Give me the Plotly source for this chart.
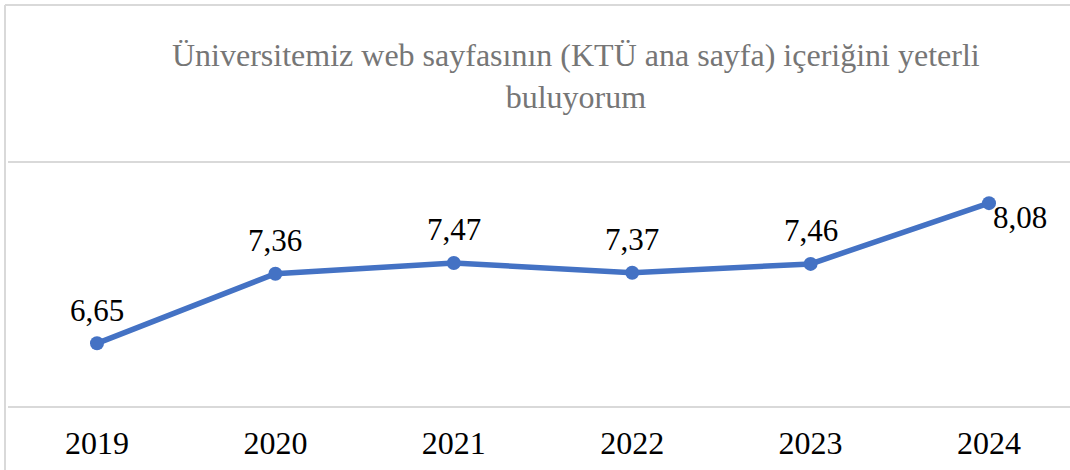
import plotly.graph_objects as go

years = ["2019", "2020", "2021", "2022", "2023", "2024"]
scores = [6.65, 7.36, 7.47, 7.37, 7.46, 8.08]
title_text = "Üniversitemiz web sayfasının (KTÜ ana sayfa) içeriğini yeterli<br>buluyorum"

FONT = "Liberation Serif, serif"
W, H = 1070, 470
ML, MR, MT, MB = 8, 0, 160, 61
pw, ph = W - ML - MR, H - MT - MB
Y0, Y1 = 5.98, 8.52

def py(pix):
    # pixel row -> paper y
    return (H - MB - pix) / ph

xs = list(range(len(years)))
fig = go.Figure()
fig.add_trace(go.Scatter(
    x=xs, y=scores, mode="lines+markers",
    line=dict(color="#4472C4", width=5.5),
    marker=dict(color="#4472C4", size=14),
    hoverinfo="skip", showlegend=False,
))

for i, v in enumerate(scores):
    last = i == len(scores) - 1
    fig.add_annotation(
        x=xs[i], y=v, xref="x", yref="y",
        text=f"{v:.2f}".replace(".", ","), showarrow=False,
        font=dict(family=FONT, size=31, color="#000000"),
        xshift=31 if last else 0, yshift=-14 if last else 33,
    )

fig.add_annotation(
    x=(576 - ML) / pw, y=py(76), xref="paper", yref="paper",
    xanchor="center", yanchor="middle",
    text=title_text, showarrow=False, align="center",
    font=dict(family=FONT, size=32, color="#767676"),
)

# outer chart border (partly cropped: only top and left edges visible)
fig.add_shape(type="line", xref="paper", yref="paper",
              x0=(5 - ML) / pw, x1=(W + 20 - ML) / pw, y0=py(5), y1=py(5),
              line=dict(color="#D9D9D9", width=2), layer="below")
fig.add_shape(type="line", xref="paper", yref="paper",
              x0=(5 - ML) / pw, x1=(5 - ML) / pw, y0=py(5), y1=py(H + 20),
              line=dict(color="#D9D9D9", width=2), layer="below")

unit = (989 - 97) / 5
fig.update_layout(
    width=W, height=H,
    margin=dict(l=ML, r=MR, t=MT, b=MB, pad=0),
    paper_bgcolor="white", plot_bgcolor="white",
    xaxis=dict(
        range=[-(97 - ML) / unit, (W - 97) / unit],
        tickvals=xs, ticktext=years,
        tickfont=dict(family=FONT, size=32, color="#000000"),
        showgrid=False, zeroline=False, showline=False, ticks="",
        ticklabelstandoff=12,
    ),
    yaxis=dict(
        range=[Y0, Y1], tickvals=[6.0, 8.5], showticklabels=False,
        showgrid=True, gridcolor="#D9D9D9", gridwidth=2,
        zeroline=False, showline=False, ticks="",
    ),
)

fig.write_html("out.html", config={"displayModeBar": False},
               post_script="document.body.style.margin='0';document.body.style.overflow='hidden';")
